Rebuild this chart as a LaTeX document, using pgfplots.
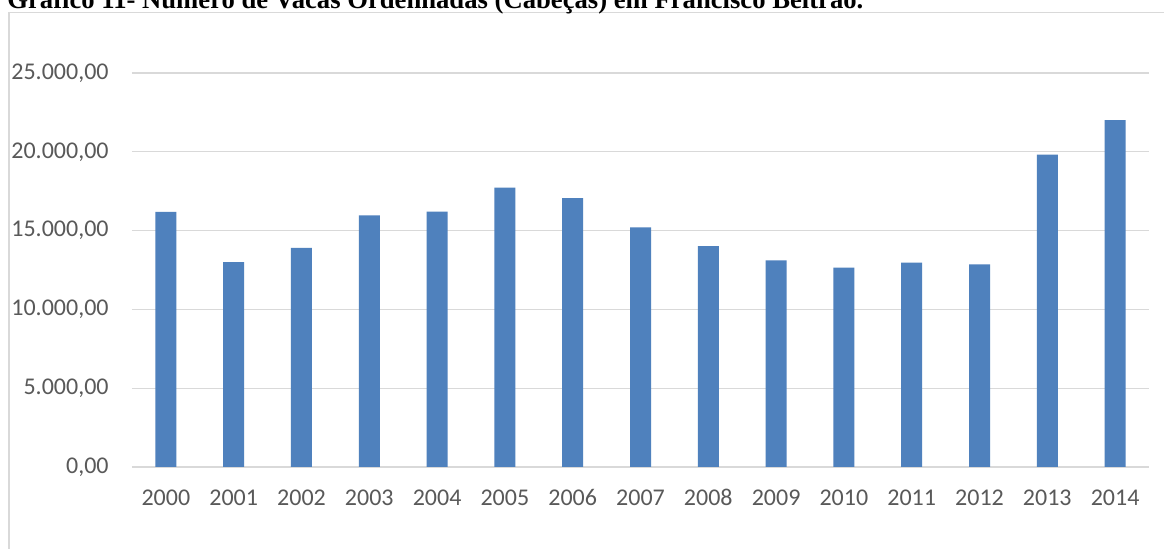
\documentclass[border=0pt]{standalone}
\usepackage{pgfplots}
\pgfplotsset{compat=1.18}
\usepackage{fontspec}
\setmainfont{Carlito}
\newfontfamily\titlefont{Liberation Serif}
\definecolor{barblue}{HTML}{4F81BD}
\definecolor{gridgray}{HTML}{D9D9D9}
\definecolor{labelgray}{HTML}{595959}

% Ordenhadas por ano (cabeças)
\pgfplotstableread{
idx ano  vacas
0   2000 16190
1   2001 13000
2   2002 13910
3   2003 15960
4   2004 16210
5   2005 17720
6   2006 17060
7   2007 15210
8   2008 14020
9   2009 13110
10  2010 12650
11  2011 12970
12  2012 12860
13  2013 19820
14  2014 22010
}\vacastable

\begin{document}
\begin{tikzpicture}
\useasboundingbox (0,0) rectangle (582pt,274.5pt);
\fill[white] (0,0) rectangle (582pt,274.5pt);

% chart frame (only top and left edges fall inside the page)
\draw[gridgray, line width=0.6pt] (4.5pt,-10pt) -- (4.5pt,268.2pt) -- (600pt,268.2pt);

% caption above the frame
\node[anchor=base west, inner sep=0pt] at (3.5pt,270pt)
  {\resizebox{428pt}{!}{\titlefont\bfseries Gráfico 11- Número de Vacas Ordenhadas (Cabeças) em Francisco Beltrão.}};

\begin{axis}[
  at={(66pt,41pt)}, anchor=south west,
  scale only axis,
  width=508.5pt, height=197pt,
  xmin=-0.5, xmax=14.5,
  ymin=0, ymax=25000,
  scaled y ticks=false,
  axis line style={draw=none},
  tick style={draw=none},
  ymajorgrids,
  major grid style={gridgray, line width=0.6pt},
  xtick=data,
  xticklabels={2000,2001,2002,2003,2004,2005,2006,2007,2008,2009,2010,2011,2012,2013,2014},
  ytick={0,5000,10000,15000,20000,25000},
  yticklabels={{0,00},{5.000,00},{10.000,00},{15.000,00},{20.000,00},{25.000,00}},
  ticklabel style={font=\fontsize{12}{14}\selectfont, text=labelgray},
  yticklabel style={anchor=east, inner sep=0pt, xshift=-11.5pt},
  xticklabel style={anchor=base, inner sep=0pt, yshift=-19.5pt},
  clip=false,
]
\addplot[ybar, bar width=10.5pt, fill=barblue, draw=none] table[x=idx, y=vacas] {\vacastable};
\end{axis}
\end{tikzpicture}
\end{document}
